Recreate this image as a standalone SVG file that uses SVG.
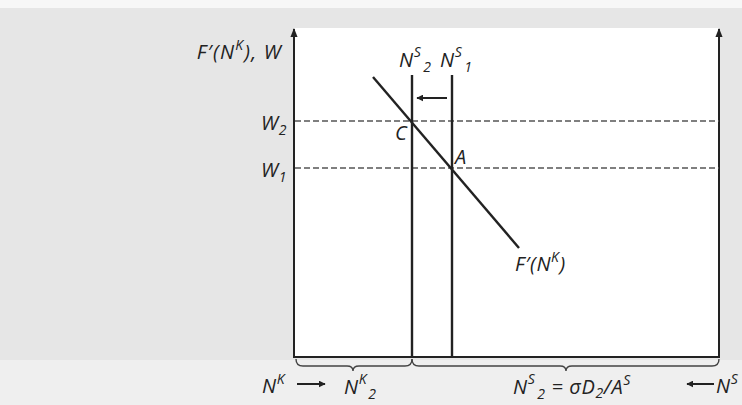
<svg xmlns="http://www.w3.org/2000/svg" width="742" height="405" viewBox="0 0 742 405">
<defs>
<style>
.t{font-family:"Open Sans","DejaVu Sans",sans-serif;font-style:italic;font-size:20px;letter-spacing:0.6px;fill:#222}
.s{font-size:14px}
.ax{stroke:#222;stroke-width:2;fill:none}
.ln{stroke:#222;stroke-width:2.4;fill:none}
.dash{stroke:#555;stroke-width:1.4;stroke-dasharray:6,3;fill:none}
.br{stroke:#444;stroke-width:1.4;fill:none}
</style>
<marker id="ah" viewBox="0 0 10 10" refX="9" refY="5" markerWidth="7" markerHeight="7" orient="auto" markerUnits="userSpaceOnUse">
<path d="M0,0 L10,5 L0,10 z" fill="#222"/>
</marker>
<marker id="ah2" viewBox="0 0 10 10" refX="9" refY="5" markerWidth="9" markerHeight="9" orient="auto" markerUnits="userSpaceOnUse">
<path d="M0,1 L10,5 L0,9 z" fill="#222"/>
</marker>
</defs>
<rect x="0" y="0" width="742" height="405" fill="#e6e6e6"/>
<rect x="0" y="0" width="742" height="8" fill="#f7f7f7"/>
<rect x="0" y="360" width="742" height="45" fill="#efefef"/>
<rect x="294" y="28" width="425" height="329" fill="#ffffff"/>

<g id="axes">
<line class="ax" x1="294" y1="357" x2="294" y2="29" marker-end="url(#ah2)"/>
<line class="ax" x1="719" y1="357" x2="719" y2="29" marker-end="url(#ah2)"/>
<line class="ax" x1="293" y1="357" x2="720" y2="357"/>
</g>

<g id="connectors">
<line class="dash" x1="295" y1="121" x2="719" y2="121"/>
<line class="dash" x1="295" y1="168" x2="719" y2="168"/>
<line id="NS2" class="ln" x1="412" y1="75" x2="412" y2="357"/>
<line id="NS1" class="ln" x1="452" y1="75" x2="452" y2="357"/>
<line id="Fprime" class="ln" x1="373" y1="77" x2="519" y2="248"/>
<line class="ax" stroke-width="1.5" x1="447" y1="98" x2="417" y2="98" marker-end="url(#ah)"/>
<path class="br" d="M296,359 q0,7 7,7 H347 q6,0 6,5 q0,-5 6,-5 H405 q7,0 7,-7"/>
<path class="br" d="M412,359 q0,7 7,7 H560 q6,0 6,5 q0,-5 6,-5 H712 q7,0 7,-7"/>
<line class="ax" stroke-width="1.5" x1="297" y1="384" x2="325" y2="384" marker-end="url(#ah)"/>
<line class="ax" stroke-width="1.5" x1="714" y1="384" x2="687" y2="384" marker-end="url(#ah)"/>
</g>

<g id="labels">
<text class="t" x="282" y="59" text-anchor="end" style="letter-spacing:1.2px">F′(N<tspan class="s" dy="-9">K</tspan><tspan dy="9">), W</tspan></text>
<text class="t" x="399" y="67">N<tspan class="s" dy="-10">S</tspan><tspan class="s" dx="2" dy="15">2</tspan></text>
<text class="t" x="440" y="67">N<tspan class="s" dy="-10">S</tspan><tspan class="s" dx="2" dy="15">1</tspan></text>
<text class="t" x="261" y="130">W<tspan class="s" dy="5">2</tspan></text>
<text class="t" x="261" y="177">W<tspan class="s" dy="5">1</tspan></text>
<text class="t" x="395" y="140">C</text>
<text class="t" x="455" y="164">A</text>
<text class="t" x="515" y="271">F′(N<tspan class="s" dy="-9">K</tspan><tspan dy="9">)</tspan></text>
<text class="t" x="262" y="393">N<tspan class="s" dy="-9">K</tspan></text>
<text class="t" x="344" y="394">N<tspan class="s" dy="-10">K</tspan><tspan class="s" dx="1" dy="15">2</tspan></text>
<text class="t" x="513" y="394">N<tspan class="s" dy="-10">S</tspan><tspan class="s" dx="2" dy="15">2</tspan><tspan dy="-5"> = σD</tspan><tspan class="s" dy="4">2</tspan><tspan dy="-4">/A</tspan><tspan class="s" dy="-9">S</tspan></text>
<text class="t" x="716" y="393">N<tspan class="s" dy="-9">S</tspan></text>
</g>
</svg>
